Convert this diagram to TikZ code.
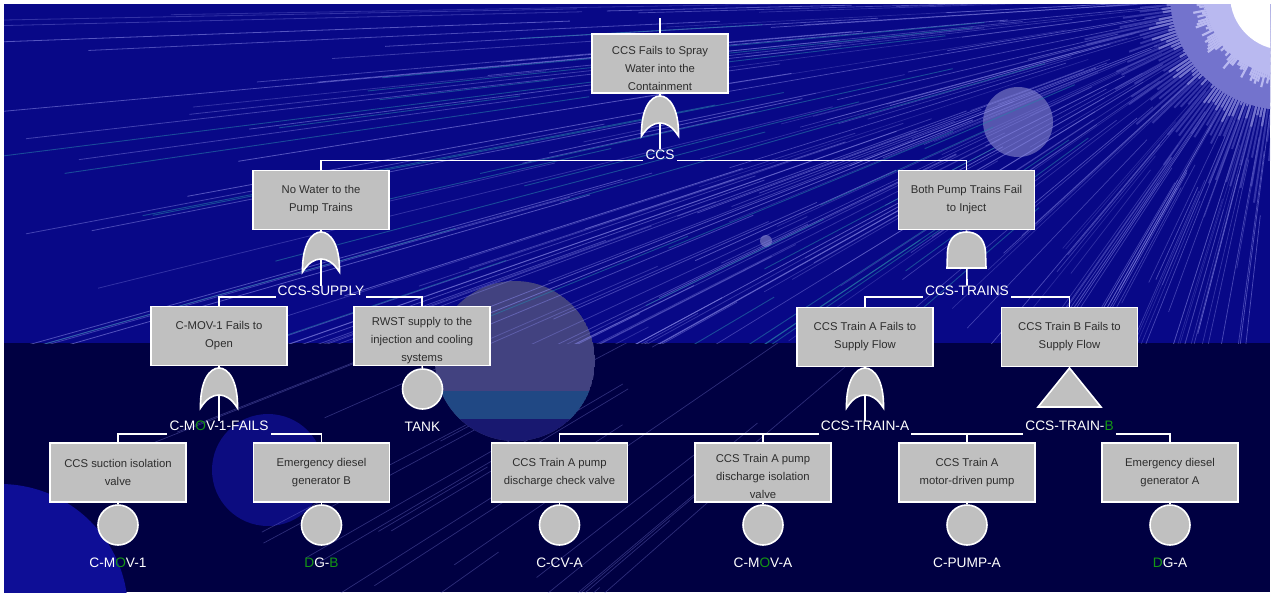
\documentclass[tikz,border=0pt]{standalone}
\usepackage{fontspec}
\setmainfont{Liberation Sans}
\usetikzlibrary{calc}
\pgfdeclarelayer{back}
\pgfdeclarelayer{wires}
\pgfsetlayers{back,wires,main}
\definecolor{bgtop}{RGB}{8,8,135}
\definecolor{bgbot}{RGB}{0,0,66}
\definecolor{boxgray}{RGB}{192,192,192}
\definecolor{txtdark}{RGB}{45,45,45}
\definecolor{gr}{RGB}{20,150,20}
\definecolor{raycol}{RGB}{130,130,225}
\definecolor{rayteal}{RGB}{40,130,170}
\definecolor{disc}{RGB}{66,66,128}
\definecolor{discteal}{RGB}{32,72,132}
\definecolor{discdark}{RGB}{24,24,112}
\definecolor{disc2}{RGB}{85,85,175}
\definecolor{bluedisc}{RGB}{12,12,128}
\definecolor{bluedisc2}{RGB}{14,14,150}
\definecolor{sunouter}{RGB}{80,80,190}
\definecolor{sunmid}{RGB}{115,115,205}
\definecolor{sunlight}{RGB}{185,185,240}
\tikzset{
  box/.style={draw=white, line width=1.6pt, fill=boxgray, minimum width=136pt, minimum height=59pt, inner sep=0pt},
  btxt/.style={text=txtdark, align=center, font=\fontsize{11.3}{18}\selectfont, inner sep=0pt},
  glab/.style={text=white, font=\fontsize{13.7}{16}\selectfont, inner xsep=2pt, inner ysep=0pt, anchor=base},
  conn/.style={draw=white, line width=1.6pt},
  gatefill/.style={fill=boxgray, draw=white, line width=1.6pt},
  evt/.style={circle, fill=boxgray, draw=white, line width=1.6pt, minimum size=40pt, inner sep=0pt},
  orgate/.pic={
    \path[gatefill] (-18.5,40) .. controls (-19,12) and (-9,0) .. (0,0)
      .. controls (9,0) and (19,12) .. (18.5,40)
      .. controls (12,30) and (6,27) .. (0,27)
      .. controls (-6,27) and (-12,30) .. (-18.5,40) -- cycle;
    \coordinate (-in) at (0,0);
    \coordinate (-out) at (0,27);
  },
  andgate/.pic={
    \path[gatefill] (-19.5,36) -- (-19,20) .. controls (-18,5) and (-9,0) .. (0,0)
      .. controls (9,0) and (18,5) .. (19,20) -- (19.5,36) -- cycle;
    \coordinate (-in) at (0,0);
    \coordinate (-out) at (0,36);
  },
  xfer/.pic={
    \path[gatefill] (0,0) -- (31.5,39) -- (-31.5,39) -- cycle;
    \coordinate (-in) at (0,0);
  }
}
\begin{document}
\begin{tikzpicture}[x=1pt,y=-1pt]
\useasboundingbox (0,0) rectangle (1272,595);
% ---------------- background ----------------
\begin{pgfonlayer}{back}
\fill[white] (0,0) rectangle (1272,595);
\begin{scope}
\clip (4,4) rectangle (1270,592);
\fill[bgtop] (4,4) rectangle (1270,343);
\fill[bgbot] (4,343) rectangle (1270,592);
\fill[bluedisc2] (0,612) circle (128);
\fill[bluedisc] (268,470) circle (56);
\pgfmathsetseed{12345}
% faint rays in the lower band
\begin{scope}
  \clip (4,343) rectangle (1270,592);
  \begin{scope}[shift={(1285,-5)}]
  \foreach \i in {1,...,28}{
    \pgfmathsetmacro\ang{138+22*rnd}
    \pgfmathsetmacro\ra{500+500*rnd}
    \pgfmathsetmacro\rb{\ra+120+300*rnd}
    \draw[raycol, line width=0.7pt, opacity=0.35] (\ang:\ra) -- (\ang:\rb);
  }
  \end{scope}
\end{scope}
\begin{scope}
  \clip (515,361) circle (80);
  \fill[disc] (515,361) circle (80);
  \fill[discteal] (430,391) rectangle (600,419);
  \fill[discdark] (430,419) rectangle (600,445);
\end{scope}
\fill[disc2] (1018,122) circle (35);
\fill[disc2] (766,241) circle (6);
% rays in the upper band
\begin{scope}
  \clip (4,4) rectangle (1270,343);
  \begin{scope}[shift={(1285,-5)}]
  \foreach \i in {1,...,120}{
    \pgfmathsetmacro\ang{95+85*rnd}
    \pgfmathsetmacro\ra{110+120*rnd}
    \pgfmathsetmacro\rb{\ra+100+380*rnd}
    \pgfmathsetmacro\op{0.25+0.35*rnd}
    \draw[raycol, line width=0.7pt, opacity=\op] (\ang:\ra) -- (\ang:\rb);
  }
  \foreach \i in {1,...,80}{
    \pgfmathsetmacro\ang{150+30*rnd}
    \pgfmathsetmacro\ra{250+500*rnd}
    \pgfmathsetmacro\rb{\ra+200+700*rnd}
    \pgfmathsetmacro\op{0.3+0.35*rnd}
    \draw[raycol, line width=0.8pt, opacity=\op] (\ang:\ra) -- (\ang:\rb);
  }
  \foreach \i in {1,...,35}{
    \pgfmathsetmacro\ang{135+43*rnd}
    \pgfmathsetmacro\ra{200+700*rnd}
    \pgfmathsetmacro\rb{\ra+150+500*rnd}
    \draw[rayteal, line width=0.9pt, opacity=0.55] (\ang:\ra) -- (\ang:\rb);
  }
  \end{scope}
\end{scope}
% sun
\begin{scope}[shift={(1285,-5)}]
  \foreach \ang in {88,89.5,...,184}{
    \pgfmathsetmacro\r{140+70*rnd}
    \draw[sunouter, line width=2pt, opacity=0.6] (0,0) -- (\ang:\r);
  }
  \fill[sunmid] (0,0) circle (115);
  \foreach \ang in {88,89.5,...,184}{
    \pgfmathsetmacro\r{112+30*rnd}
    \draw[sunmid, line width=2.2pt] (0,0) -- (\ang:\r);
  }
  \fill[sunlight] (0,0) circle (80);
  \foreach \ang in {88,89.5,...,184}{
    \pgfmathsetmacro\r{78+18*rnd}
    \draw[sunlight, line width=2.2pt] (0,0) -- (\ang:\r);
  }
  \fill[white] (0,0) circle (55);
\end{scope}
\end{scope}
\end{pgfonlayer}

% ---------------- boxes ----------------
\node[box] (top) at (660,63.5) {};
\node[btxt] at ($(top)+(0,5)$) {CCS Fails to Spray\\Water into the\\Containment};
\node[box] (nw) at (321,200) {};
\node[btxt] at (nw) {No Water to the\\Pump Trains};
\node[box] (bp) at (966.5,200) {};
\node[btxt] at (bp) {Both Pump Trains Fail\\to Inject};
\node[box] (cmov) at (219,336) {};
\node[btxt] at (cmov) {C-MOV-1 Fails to\\Open};
\node[box] (rwst) at (422,336) {};
\node[btxt] at ($(rwst)+(0,5)$) {RWST supply to the\\injection and cooling\\systems};
\node[box] (trA) at (865,337) {};
\node[btxt] at (trA) {CCS Train A Fails to\\Supply Flow};
\node[box] (trB) at (1069.5,337) {};
\node[btxt] at (trB) {CCS Train B Fails to\\Supply Flow};
\node[box] (b1) at (118,472.5) {};
\node[btxt] at (b1) {CCS suction isolation\\valve};
\node[box] (b2) at (321.5,472.5) {};
\node[btxt] at (b2) {Emergency diesel\\generator B};
\node[box] (b3) at (559.5,472.5) {};
\node[btxt] at (b3) {CCS Train A pump\\discharge check valve};
\node[box] (b4) at (763,472.5) {};
\node[btxt] at ($(b4)+(0,4)$) {CCS Train A pump\\discharge isolation\\valve};
\node[box] (b5) at (967,472.5) {};
\node[btxt] at (b5) {CCS Train A\\motor-driven pump};
\node[box] (b6) at (1170,472.5) {};
\node[btxt] at (b6) {Emergency diesel\\generator A};

% ---------------- gates ----------------
\pic (g0) at (660,96) {orgate};
\pic (g1) at (321,232) {orgate};
\pic (g2) at (966.5,232) {andgate};
\pic (g3) at (219,368) {orgate};
\pic (g4) at (865,368) {orgate};
\pic (g5) at (1069.5,368) {xfer};

% ---------------- gate labels ----------------
\node[glab] (ccs) at (660,159) {CCS};
\node[glab] (supply) at (321,295.5) {CCS-SUPPLY};
\node[glab] (trains) at (967,295.5) {CCS-TRAINS};
\node[glab] (cmovf) at (219,430.5) {C-M{\color{gr}O}V-1-FAILS};
\node[glab] (tra) at (865,430.5) {CCS-TRAIN-A};
\node[glab] (trb) at (1069.5,430.5) {CCS-TRAIN-{\color{gr}B}};

% ---------------- basic events ----------------
\node[evt] (etank) at (422.5,389) {};
\node[glab] (ltank) at (422.5,431) {TANK};
\node[evt] (e1) at (118,525) {};
\node[glab] (l1) at (118,567) {C-M{\color{gr}O}V-1};
\node[evt] (e2) at (321.5,525) {};
\node[glab] (l2) at (321.5,567) {{\color{gr}D}G-{\color{gr}B}};
\node[evt] (e3) at (559.5,525) {};
\node[glab] (l3) at (559.5,567) {C-CV-A};
\node[evt] (e4) at (763,525) {};
\node[glab] (l4) at (763,567) {C-M{\color{gr}O}V-A};
\node[evt] (e5) at (967,525) {};
\node[glab] (l5) at (967,567) {C-PUMP-A};
\node[evt] (e6) at (1170,525) {};
\node[glab] (l6) at (1170,567) {{\color{gr}D}G-A};

\coordinate (topin) at (660,18);

% ---------------- connectors ----------------
\begin{pgfonlayer}{wires}
\draw[conn] (topin) -- (top.north);
\draw[conn] (top.south) -- (g0-in) -- (ccs.north);
\draw[conn] (nw.north) |- ([yshift=-1.5pt]ccs.base west);
\draw[conn] (bp.north) |- ([yshift=-1.5pt]ccs.base east);

\draw[conn] (nw.south) -- (g1-in) -- (supply.north);
\draw[conn] (cmov.north) |- ([yshift=-1.5pt]supply.base west);
\draw[conn] (rwst.north) |- ([yshift=-1.5pt]supply.base east);

\draw[conn] (bp.south) -- (g2-in) -- (trains.north);
\draw[conn] (trA.north) |- ([yshift=-1.5pt]trains.base west);
\draw[conn] (trB.north) |- ([yshift=-1.5pt]trains.base east);

\draw[conn] (cmov.south) -- (g3-in) -- (cmovf.north);
\draw[conn] (b1.north) |- ([yshift=-3.5pt]cmovf.base west);
\draw[conn] (b2.north) |- ([yshift=-3.5pt]cmovf.base east);
\draw[conn] (rwst.south) -- (etank.north);

\draw[conn] (trA.south) -- (g4-in) -- (tra.north);
\draw[conn] (trB.south) -- (g5-in);
\draw[conn] (b3.north) |- ([yshift=-3.5pt]tra.base west);
\draw[conn] (b4.north) |- ([yshift=-3.5pt]tra.base west);
\draw[conn] ([yshift=-3.5pt]tra.base east) -- ([yshift=-3.5pt]trb.base west);
\draw[conn] (b5.north) |- ([yshift=-3.5pt]trb.base west);
\draw[conn] ([yshift=-3.5pt]trb.base east) -| (b6.north);

\draw[conn] (b1.south) -- (e1.north);
\draw[conn] (b2.south) -- (e2.north);
\draw[conn] (b3.south) -- (e3.north);
\draw[conn] (b4.south) -- (e4.north);
\draw[conn] (b5.south) -- (e5.north);
\draw[conn] (b6.south) -- (e6.north);
\end{pgfonlayer}
\end{tikzpicture}
\end{document}
